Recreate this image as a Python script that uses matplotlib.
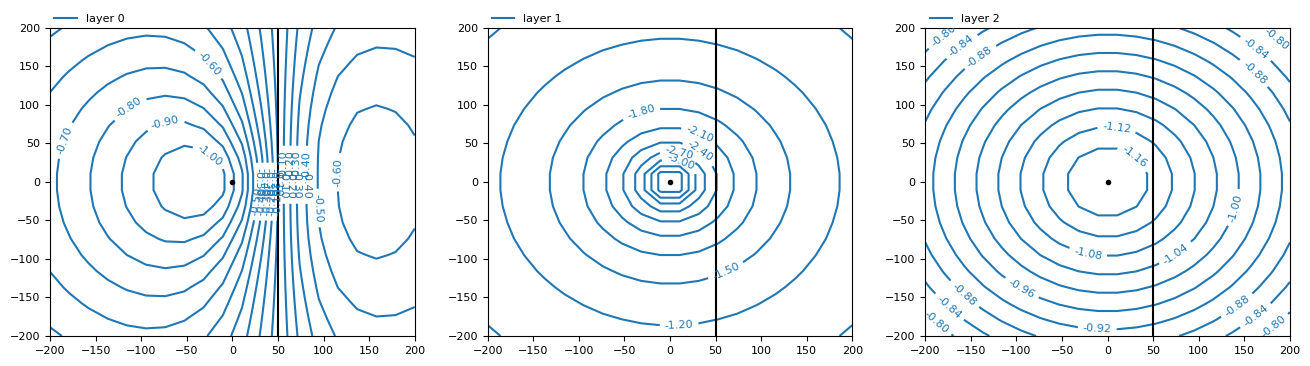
import numpy as np
import matplotlib
matplotlib.use("Agg")
import matplotlib.pyplot as plt
from matplotlib.lines import Line2D

# window and grid used for the head computation
window = [-200, 200, -200, 200]
n_grid = 20

# well (screened in layer 1) and river line in layer 0
well_xy = [0.0, 0.0]
river_x = 50.0

# contour levels
levels_layer0 = [-1.0, -0.9, -0.8, -0.7, -0.6, -0.5, -0.4, -0.3, -0.2, -0.1]
levels_layer1 = [-3.6, -3.3, -3.0, -2.7, -2.4, -2.1, -1.8, -1.5, -1.2, -0.9]
levels_layer2 = [-1.16, -1.12, -1.08, -1.04, -1.00, -0.96, -0.92, -0.88, -0.84, -0.80]

# head parameters per layer, fitted by eye to the contours of the reference
layer0_par = [-4.103, 0.637, 55.0]     # b0, b1, core radius
layer0_leak = [62.0, 55.0]             # decay length left / right of the river
layer1_par = [-6.581, 1.076, -0.0013]  # c0, c1 (log), c2 (linear)
layer2_par = [-1.253, 0.001718, 30.0]  # c0, c1, core radius

layer_names = ["layer 0", "layer 1", "layer 2"]

# where the contour labels sit in the reference (data coordinates)
labels_layer0 = [(-21, 158), (-113, 96), (-74, 80), (-24, 36), (-180, 52),
                 (107, 13), (91, -34),
                 (26, 0), (32, 0), (37, 0), (41, 0), (46, 0),
                 (26, -21), (32, -21), (37, -21), (41, -21), (46, -21),
                 (54, 22), (59, 22), (67, 22), (74, 22),
                 (54, -2), (59, -2), (67, -2), (74, -2)]
labels_layer1 = [(-32, 91), (32, 61), (32, 38), (10, 36), (10, 24),
                 (60, -112), (10, -183)]
labels_layer2 = [(-181, 191), (-160, 176), (-139, 161), (180, 178), (158, 167),
                 (157, 137), (10, 72), (30, 33), (136, -32), (71, -88),
                 (-22, -95), (-96, -142), (-158, -147), (-172, -160),
                 (-187, -181), (-11, -186), (136, -151), (157, -166), (177, -181)]


def head_layer0(x, y):
    b0, b1, rc = layer0_par
    r2 = (x - well_xy[0]) ** 2 + (y - well_xy[1]) ** 2
    base = b0 + 0.5 * b1 * np.log(r2 + rc ** 2)
    # same field on the river line, pulled back to zero with a decay
    rr2 = (river_x - well_xy[0]) ** 2 + (y - well_xy[1]) ** 2
    at_river = b0 + 0.5 * b1 * np.log(rr2 + rc ** 2)
    lam = np.where(x < river_x, layer0_leak[0], layer0_leak[1])
    return base - at_river * np.exp(-np.abs(x - river_x) / lam)


def head_layer1(x, y):
    c0, c1, c2 = layer1_par
    r = np.hypot(x - well_xy[0], y - well_xy[1])
    return c0 + c1 * np.log(r) + c2 * r


def head_layer2(x, y):
    c0, c1, rc = layer2_par
    r2 = (x - well_xy[0]) ** 2 + (y - well_xy[1]) ** 2
    return c0 + c1 * np.sqrt(r2 + rc ** 2)


xg = np.linspace(window[0], window[1], n_grid)
yg = np.linspace(window[2], window[3], n_grid)
X, Y = np.meshgrid(xg, yg)

heads = [head_layer0(X, Y), head_layer1(X, Y), head_layer2(X, Y)]
levels = [levels_layer0, levels_layer1, levels_layer2]
label_spots = [labels_layer0, labels_layer1, labels_layer2]

fig, axes = plt.subplots(1, 3, figsize=(13.1, 3.66), dpi=100)
fig.subplots_adjust(left=0.0382, right=0.9847, bottom=0.082, top=0.9235, wspace=0.2)

for i, ax in enumerate(axes):
    ax.set_xlim(window[0], window[1])
    ax.set_ylim(window[2], window[3])
    cs = ax.contour(X, Y, heads[i], levels=levels[i], colors="C0",
                    linewidths=1.5, linestyles="solid")
    ax.clabel(cs, fmt="%1.2f", fontsize=8, inline=True, manual=label_spots[i])

    # layout: river and well
    ax.plot([river_x, river_x], [window[2], window[3]], color="k", lw=1.5)
    ax.plot(well_xy[0], well_xy[1], "k.")

    ax.set_xlim(window[0], window[1])
    ax.set_ylim(window[2], window[3])
    ax.set_xticks(np.arange(-200, 201, 50))
    ax.set_yticks(np.arange(-200, 201, 50))
    ax.tick_params(labelsize=8)
    ax.legend(handles=[Line2D([], [], color="C0", lw=1.5)], labels=[layer_names[i]],
              loc="lower left", bbox_to_anchor=(0, 1), frameon=False, fontsize=8,
              borderaxespad=0)

fig.savefig("out.png", dpi=100)
